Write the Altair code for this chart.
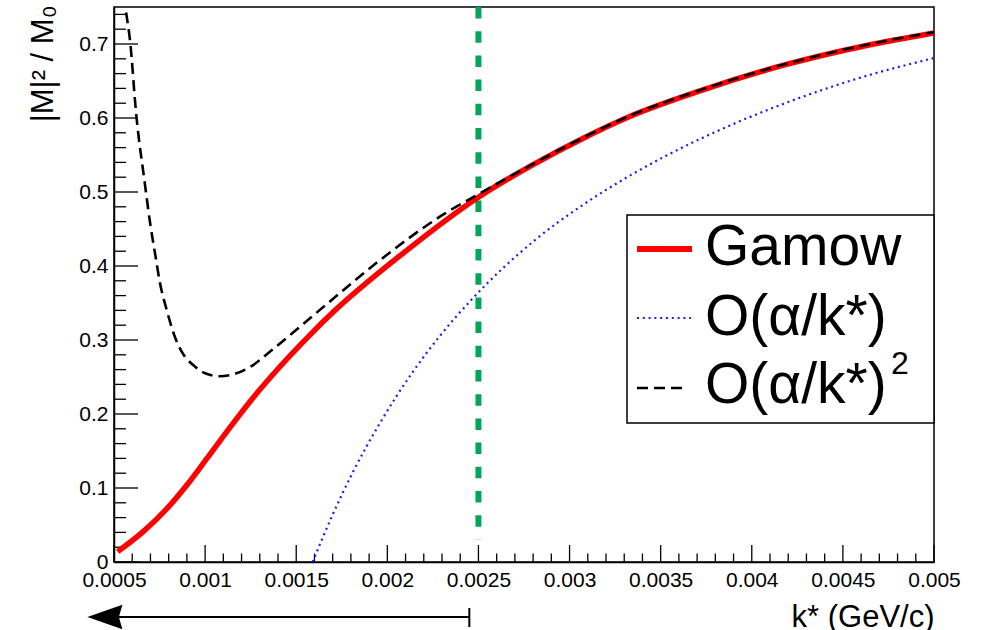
import altair as alt
import pandas as pd

# ---------------- data ----------------
x_major = [0.0005, 0.001, 0.0015, 0.002, 0.0025, 0.003, 0.0035, 0.004, 0.0045, 0.005]
y_major = [0, 0.1, 0.2, 0.3, 0.4, 0.5, 0.6, 0.7]

gamow_k = [0.00052, 0.00066, 0.00079, 0.0009, 0.00101, 0.00114, 0.00126, 0.00136,
           0.00158, 0.0017, 0.00207, 0.0025, 0.0028, 0.00307, 0.00333, 0.00372,
           0.00417, 0.00463, 0.005]
gamow_v = [0.014, 0.041, 0.072, 0.104, 0.140, 0.183, 0.221, 0.250,
           0.308, 0.337, 0.414, 0.493, 0.537, 0.572, 0.602, 0.637,
           0.671, 0.698, 0.715]

first_k = [0.00159, 0.0017, 0.00181, 0.00196, 0.00214, 0.00229, 0.00246, 0.0028,
           0.00307, 0.00333, 0.00353, 0.0039, 0.00426, 0.00463, 0.005]
first_v = [0.0, 0.064, 0.121, 0.188, 0.257, 0.306, 0.354, 0.433,
           0.482, 0.522, 0.549, 0.592, 0.627, 0.657, 0.681]

second_k = [0.00052, 0.00054, 0.00056, 0.00059, 0.00062, 0.00067, 0.0007, 0.00073,
            0.00075, 0.00079, 0.00083, 0.00087, 0.00094, 0.001, 0.00108, 0.00116,
            0.00125, 0.00136, 0.00154, 0.00167, 0.00196, 0.00231, 0.0025, 0.0028,
            0.00307, 0.00333, 0.00372, 0.00417, 0.00463, 0.005]
second_v = [0.88, 0.80, 0.755, 0.70, 0.61, 0.51, 0.455, 0.41,
            0.38, 0.34, 0.307, 0.285, 0.265, 0.255, 0.251, 0.254,
            0.264, 0.285, 0.322, 0.349, 0.408, 0.470, 0.497, 0.538,
            0.573, 0.603, 0.638, 0.672, 0.699, 0.716]

cut_k = [0.0025]
cut_v = [0.03, 0.75]
arrow_k = [0.00045, 0.00245]   # arrow head centre, arrow end

legend_labels = ["Gamow", "O(α/k*)", "O(α/k*)"]

# ---------------- layout ----------------
W, H = 820, 555
FONT = "Liberation Sans"

xscale = alt.Scale(domain=[0.0005, 0.005], nice=False, zero=False)
yscale = alt.Scale(domain=[0, 0.75], nice=False, zero=False)

x_minor = [round(0.0005 + i * 0.0001, 5) for i in range(46)]
x_minor = [v for v in x_minor if all(abs(v - m) > 1e-9 for m in x_major)]
y_minor = [round(i * 0.02, 3) for i in range(38)]
y_minor = [v for v in y_minor if all(abs(v - m) > 1e-9 for m in y_major)]

xaxis = alt.Axis(values=x_major, ticks=False, tickSize=0, grid=False,
                 domainColor="black", domainWidth=1.5,
                 labelFontSize=21, labelPadding=7, labelFlush=False, labelOverlap=False,
                 labelColor="black", labelExpr="toString(datum.value)",
                 title="k* (GeV/c)", titleFontSize=31, titleFontWeight="normal",
                 titleX=W, titleY=64, titleAlign="right", titleBaseline="alphabetic",
                 titleColor="black")
yaxis = alt.Axis(values=y_major, ticks=False, tickSize=0, grid=False,
                 domainColor="black", domainWidth=1.5,
                 labelFontSize=21, labelPadding=6, labelFlush=False, labelOverlap=False,
                 labelColor="black", labelExpr="toString(datum.value)",
                 title="|M|² / M₀", titleFontSize=31, titleFontWeight="normal",
                 titleAngle=270, titleAlign="right", titleBaseline="middle",
                 titleX=-71, titleY=-2, titleColor="black")

df_g = pd.DataFrame({"k": gamow_k, "v": gamow_v})
df_1 = pd.DataFrame({"k": first_k, "v": first_v})
df_2 = pd.DataFrame({"k": second_k, "v": second_v})

# axes carrier (invisible)
base = alt.Chart(df_g).mark_line(opacity=0).encode(
    x=alt.X("k:Q", scale=xscale, axis=xaxis),
    y=alt.Y("v:Q", scale=yscale, axis=yaxis),
)

# inward ticks (ROOT style)
xt_major = alt.Chart(pd.DataFrame({"t": x_major})).mark_rule(color="black", strokeWidth=1.3).encode(
    x=alt.X("t:Q", scale=xscale), y=alt.value(H), y2=alt.value(H - 17))
xt_minor = alt.Chart(pd.DataFrame({"t": x_minor})).mark_rule(color="black", strokeWidth=1.3).encode(
    x=alt.X("t:Q", scale=xscale), y=alt.value(H), y2=alt.value(H - 8.5))
yt_major = alt.Chart(pd.DataFrame({"t": y_major})).mark_rule(color="black", strokeWidth=1.3).encode(
    y=alt.Y("t:Q", scale=yscale), x=alt.value(0), x2=alt.value(24))
yt_minor = alt.Chart(pd.DataFrame({"t": y_minor})).mark_rule(color="black", strokeWidth=1.3).encode(
    y=alt.Y("t:Q", scale=yscale), x=alt.value(0), x2=alt.value(12))

# green cut line
cut = alt.Chart(pd.DataFrame({"k": cut_k, "y0": [cut_v[1]], "y1": [cut_v[0]]})).mark_rule(
    color="#00a65a", strokeWidth=6, strokeDash=[11.5, 12.7]).encode(
    x=alt.X("k:Q", scale=xscale), y=alt.Y("y0:Q", scale=yscale), y2="y1:Q")

red = alt.Chart(df_g).mark_line(color="#ff0000", strokeWidth=5.5, clip=True,
                                interpolate="monotone").encode(
    x=alt.X("k:Q", scale=xscale), y=alt.Y("v:Q", scale=yscale))
blue = alt.Chart(df_1).mark_line(color="#1a1aff", strokeWidth=2.2, strokeDash=[2, 3.8],
                                 clip=True, interpolate="monotone").encode(
    x=alt.X("k:Q", scale=xscale), y=alt.Y("v:Q", scale=yscale))
black = alt.Chart(df_2).mark_line(color="black", strokeWidth=2.6, strokeDash=[11, 6],
                                  clip=True, interpolate="monotone").encode(
    x=alt.X("k:Q", scale=xscale), y=alt.Y("v:Q", scale=yscale))

# arrow below the axis
arrow_df = pd.DataFrame({"a": [arrow_k[0]], "b": [arrow_k[1]]})
shaft = alt.Chart(arrow_df).mark_rule(color="black", strokeWidth=2).encode(
    x=alt.X("a:Q", scale=xscale), x2="b:Q", y=alt.value(610))
endbar = alt.Chart(arrow_df).mark_rule(color="black", strokeWidth=2).encode(
    x=alt.X("b:Q", scale=xscale), y=alt.value(601), y2=alt.value(620))
head = alt.Chart(arrow_df).mark_point(
    shape="M-1,0L1,-0.7L0.8,0L1,0.7Z", filled=True, color="black", opacity=1,
    size=1225, strokeWidth=0).encode(
    x=alt.X("a:Q", scale=xscale), y=alt.value(610))

# legend (drawn by hand, ROOT TLegend style)
one = pd.DataFrame({"d": [0]})
lx0, lx1, ly0, ly1 = 513, W, 208, 416
frame = alt.Chart(one).mark_rect(fill="white", stroke="black", strokeWidth=1.5).encode(
    x=alt.value(lx0), x2=alt.value(lx1), y=alt.value(ly0), y2=alt.value(ly1))
leg_red = alt.Chart(one).mark_rule(color="#ff0000", strokeWidth=6).encode(
    x=alt.value(523), x2=alt.value(578), y=alt.value(242))
leg_blue = alt.Chart(one).mark_rule(color="#1a1aff", strokeWidth=2.2, strokeDash=[2, 3.8]).encode(
    x=alt.value(523), x2=alt.value(577), y=alt.value(311))
leg_black = alt.Chart(one).mark_rule(color="black", strokeWidth=2.6, strokeDash=[11, 6]).encode(
    x=alt.value(523), x2=alt.value(571), y=alt.value(381))

texts = []
for lab, yb in zip(legend_labels, [258, 328, 396]):
    texts.append(alt.Chart(pd.DataFrame({"t": [lab]})).mark_text(
        align="left", baseline="alphabetic", fontSize=57, font=FONT, color="black").encode(
        text="t:N", x=alt.value(591), y=alt.value(yb)))
sup = alt.Chart(pd.DataFrame({"t": ["2"]})).mark_text(
    align="left", baseline="alphabetic", fontSize=32, font=FONT, color="black").encode(
    text="t:N", x=alt.value(777), y=alt.value(367))

chart = alt.layer(
    base, xt_major, xt_minor, yt_major, yt_minor, cut, red, blue, black,
    shaft, endbar, head, frame, leg_red, leg_blue, leg_black, *texts, sup
).properties(
    width=W, height=H,
    autosize=alt.AutoSizeParams(type="none"),
    padding={"left": 114, "top": 7, "right": 47, "bottom": 68},
    background="white",
).configure_view(
    stroke="black", strokeWidth=1.5
).configure_axis(
    labelFont=FONT, titleFont=FONT
).configure_text(font=FONT)

chart.save("out.html", embed_options={"renderer": "svg", "actions": False})
